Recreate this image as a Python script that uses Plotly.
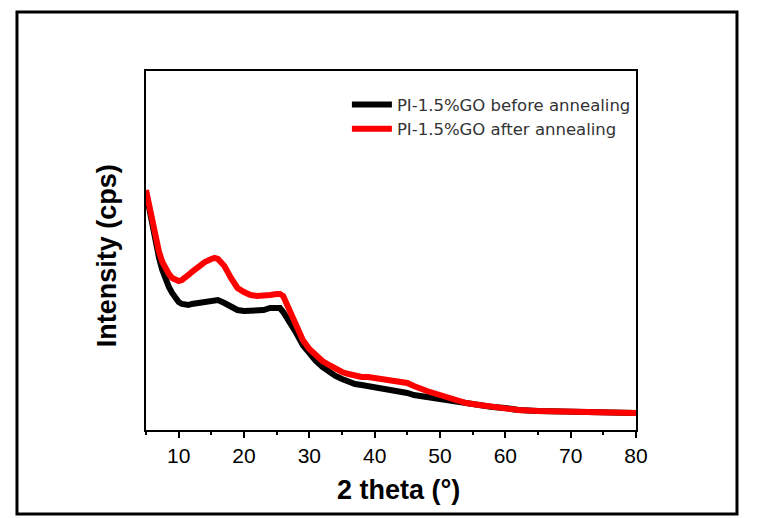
import plotly.graph_objects as go

# 2 theta (degrees)
two_theta = [5.0, 5.5, 6.0, 6.5, 7.0, 7.5, 8.0, 8.5, 9.0, 9.5, 10.0, 10.5, 11.0, 11.5, 12, 13, 14, 15, 15.5, 16,
             17, 18, 19, 20, 21, 22, 23, 24, 25, 25.5, 26, 27, 28, 29, 30, 31, 32, 33, 34, 35, 36, 37, 38, 39,
             40, 41, 42, 43, 44, 45, 46, 47, 48, 50, 52, 54, 56, 58, 60, 62, 65, 70, 75, 80]

# intensity (arbitrary cps units)
before_annealing = [238, 220, 202, 185, 172, 160, 150, 143, 137, 132, 128, 126, 125, 125, 126, 127, 128, 130, 130, 130,
                    127, 123, 120, 119, 119, 119, 120, 122, 123, 122, 118, 108, 97, 85, 76, 69, 63, 58, 54, 51, 48, 46, 45, 44,
                    43, 42, 41, 40, 39, 37, 35, 34, 32, 30, 28, 26, 24, 23, 22, 20, 19, 18, 17, 17]
after_annealing = [240, 223, 206, 190, 178, 168, 161, 156, 152, 150, 149, 150, 152, 155, 158, 163, 168, 171, 172, 171,
                   164, 152, 142, 138, 135, 134, 134, 135, 136, 136, 134, 120, 105, 90, 81, 74, 69, 65, 61, 58, 56, 54, 53, 53,
                   52, 52, 51, 50, 49, 47, 44, 41, 39, 35, 31, 27, 25, 23, 21, 20, 19, 18, 17, 17]

labels = ["PI-1.5%GO before annealing", "PI-1.5%GO after annealing"]
x_ticks = [10, 20, 30, 40, 50, 60, 70, 80]

FONT = "Liberation Sans, Arial, sans-serif"
WIDE = "DejaVu Sans, sans-serif"

fig = go.Figure()
fig.add_trace(go.Scatter(x=two_theta, y=before_annealing, mode="lines", name=labels[0],
                         line=dict(color="#000000", width=6)))
fig.add_trace(go.Scatter(x=two_theta, y=after_annealing, mode="lines", name=labels[1],
                         line=dict(color="#ff0000", width=6)))

fig.update_layout(
    width=759, height=518,
    margin=dict(l=138, r=131, t=63, b=96),
    paper_bgcolor="white", plot_bgcolor="white",
    font=dict(family=FONT, color="black"),
    showlegend=True,
    legend=dict(x=0.41, y=0.955, xanchor="left", yanchor="top", bgcolor="rgba(0,0,0,0)",
                font=dict(size=16.5, family=WIDE, color="#333"), itemwidth=40, tracegroupgap=0),
    xaxis=dict(range=[5, 80], tickvals=x_ticks, ticks="outside", ticklen=6, tickwidth=1.5,
               tickcolor="black", showline=True, linecolor="black", linewidth=1.5, mirror=True,
               showgrid=False, zeroline=False, tickfont=dict(size=21, family=FONT),
               minor=dict(dtick=5, tick0=5, ticks="outside", ticklen=3, tickcolor="black")),
    yaxis=dict(range=[0, 359], showticklabels=False, ticks="", showline=True, linecolor="black",
               linewidth=1.5, mirror=True, showgrid=False, zeroline=False),
    annotations=[
        dict(text="<b>2 theta (°)</b>", xref="paper", yref="paper", x=0.516, y=-0.167,
             xanchor="center", yanchor="middle", showarrow=False, font=dict(size=27, family=FONT)),
        dict(text="<b>Intensity (cps)</b>", xref="paper", yref="paper", x=-0.0796, y=0.487,
             xanchor="center", yanchor="middle", textangle=-90, showarrow=False,
             font=dict(size=27, family=FONT)),
    ],
    shapes=[dict(type="rect", xref="paper", yref="paper", x0=-0.2633, x1=1.2061, y0=-0.234, y1=1.1643,
                 line=dict(color="black", width=3), fillcolor="rgba(0,0,0,0)")],
)

fig.write_html("out.html")
